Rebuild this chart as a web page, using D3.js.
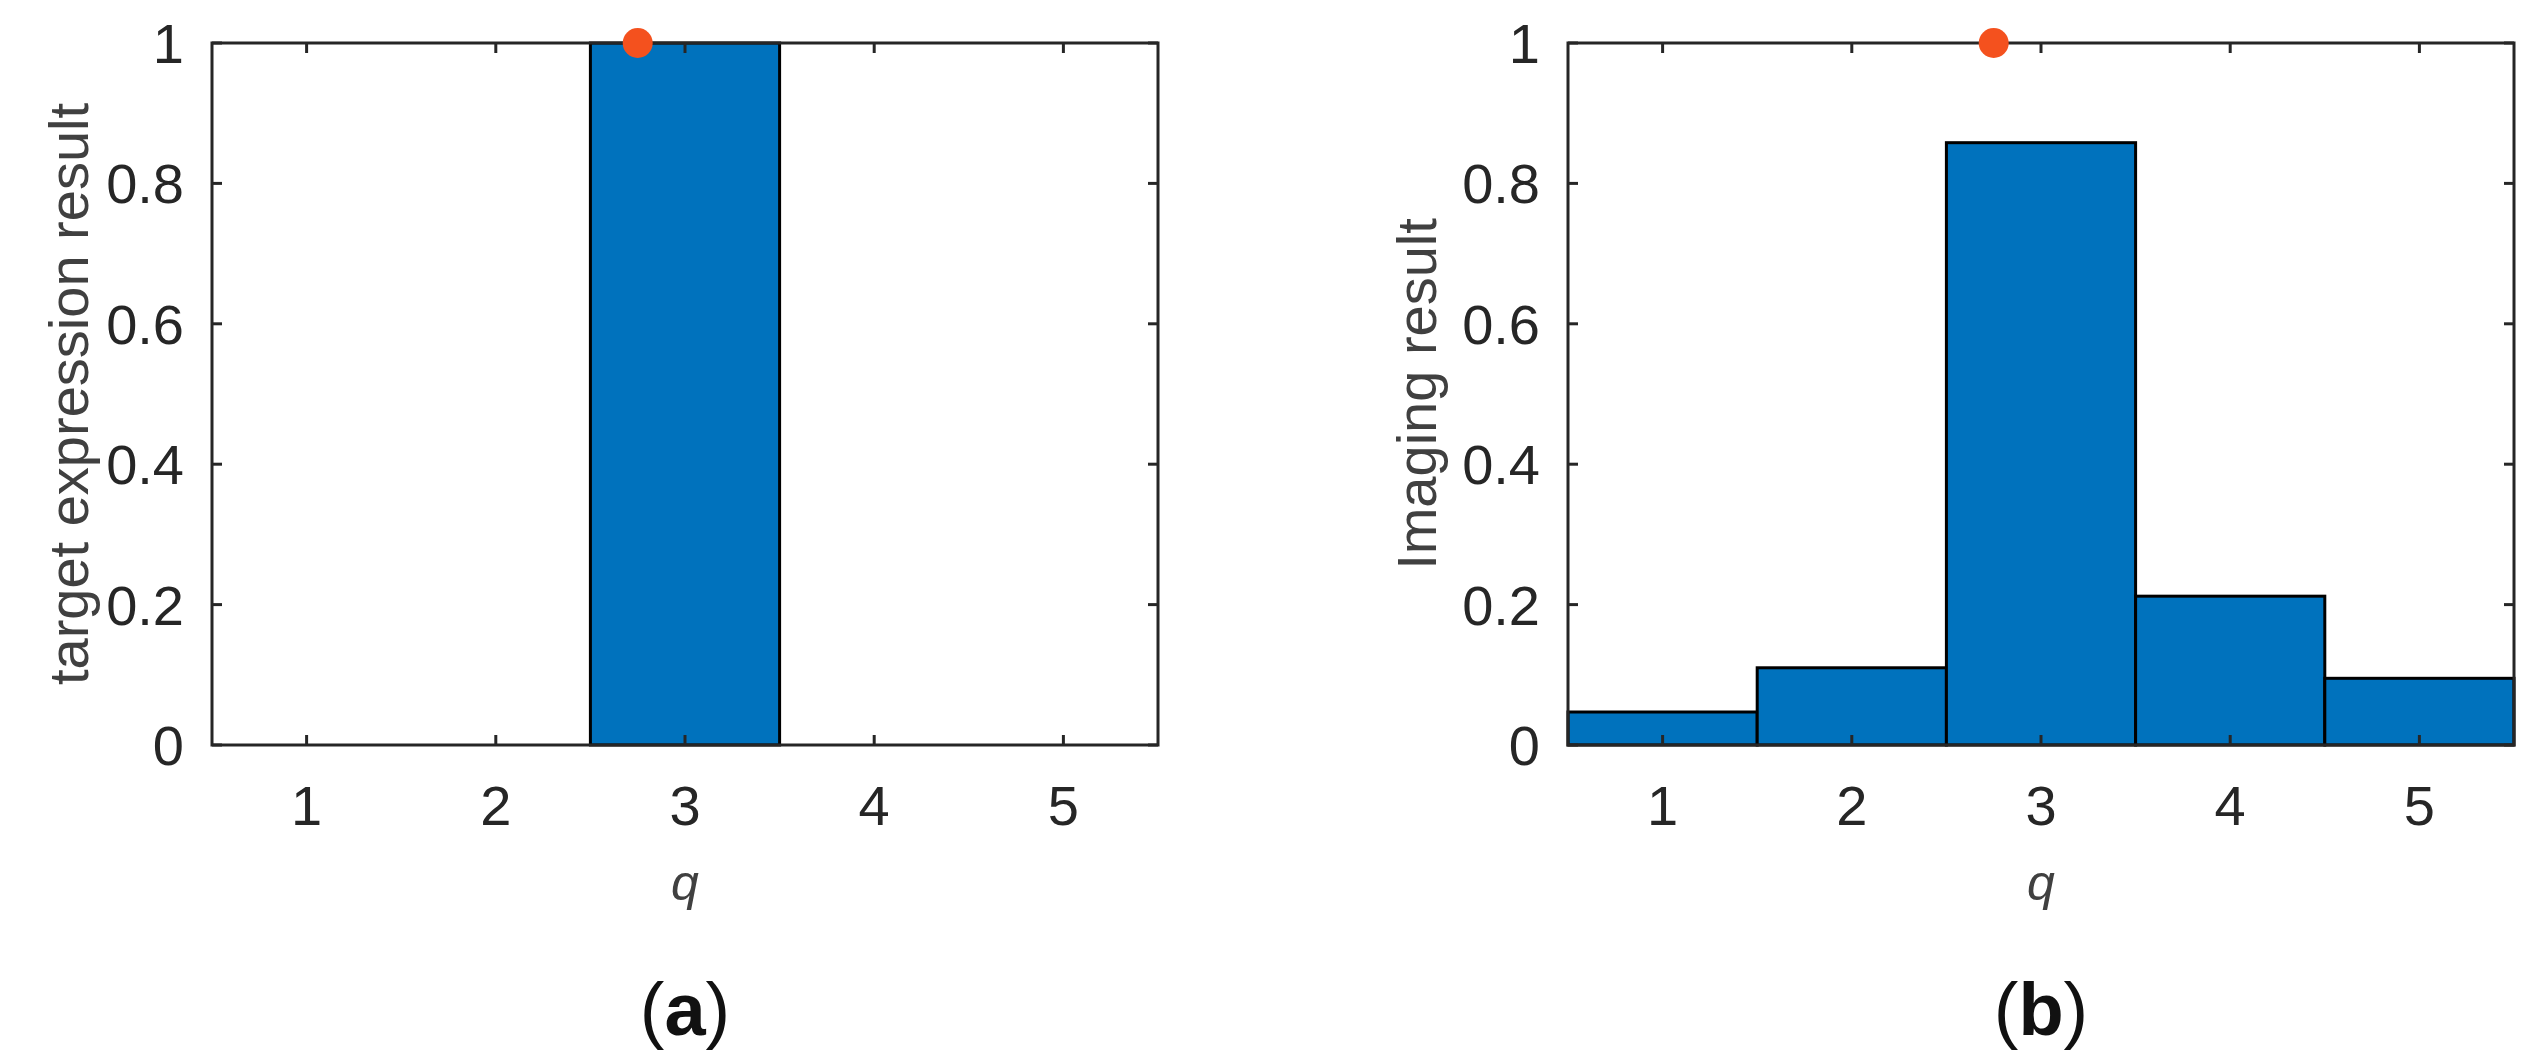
<!DOCTYPE html>
<html>
<head>
<meta charset="utf-8">
<script src="https://cdn.jsdelivr.net/npm/d3@7"></script>
<style>
  body { margin: 0; background: white; }
  text { font-family: "Liberation Sans", Arial, sans-serif; }
</style>
</head>
<body>
<svg id="chart" width="2537" height="1062"></svg>
<script>
const categories = [1, 2, 3, 4, 5];
const targetValues = [0, 0, 1, 0, 0];
const imagingValues = [0.047, 0.110, 0.858, 0.212, 0.095];
const markerQ = 2.75;
const markerValue = 1;
const yTicks = [0, 0.2, 0.4, 0.6, 0.8, 1];

const svg = d3.select("#chart");
const axisColor = "#262626";

function panel(left, values, ylabel, labelX, letter) {
  const top = 43, bottom = 745, width = 946;
  const x = d3.scaleLinear().domain([0.5, 5.5]).range([left, left + width]);
  const y = d3.scaleLinear().domain([0, 1]).range([bottom, top]);
  const g = svg.append("g");

  g.selectAll(".bar")
    .data(values.map((v, i) => ({q: categories[i], v: v})).filter(d => d.v > 0))
    .enter()
    .append("rect")
    .attr("x", d => x(d.q - 0.5))
    .attr("y", d => y(d.v))
    .attr("width", d => x(d.q + 0.5) - x(d.q - 0.5))
    .attr("height", d => y(0) - y(d.v))
    .attr("fill", "#0072BD")
    .attr("stroke", "#000")
    .attr("stroke-width", 3);

  // ticks inside box
  g.selectAll(".xt").data(categories).enter().append("g").each(function(d) {
    const s = d3.select(this);
    s.append("line").attr("x1", x(d)).attr("x2", x(d)).attr("y1", bottom).attr("y2", bottom - 10)
      .attr("stroke", axisColor).attr("stroke-width", 3);
    s.append("line").attr("x1", x(d)).attr("x2", x(d)).attr("y1", top).attr("y2", top + 10)
      .attr("stroke", axisColor).attr("stroke-width", 3);
    s.append("text").attr("x", x(d)).attr("y", 825).attr("text-anchor", "middle")
      .attr("font-size", 56).attr("fill", axisColor).text(d);
  });
  g.selectAll(".yt").data(yTicks).enter().append("g").each(function(d) {
    const s = d3.select(this);
    s.append("line").attr("x1", left).attr("x2", left + 10).attr("y1", y(d)).attr("y2", y(d))
      .attr("stroke", axisColor).attr("stroke-width", 3);
    s.append("line").attr("x1", left + width).attr("x2", left + width - 10).attr("y1", y(d)).attr("y2", y(d))
      .attr("stroke", axisColor).attr("stroke-width", 3);
    s.append("text").attr("x", left - 28).attr("y", y(d) + 20).attr("text-anchor", "end")
      .attr("font-size", 56).attr("fill", axisColor).text(d3.format("")(d));
  });

  g.append("rect").attr("x", left).attr("y", top).attr("width", width).attr("height", bottom - top)
    .attr("fill", "none").attr("stroke", axisColor).attr("stroke-width", 3);

  g.append("circle").attr("cx", x(markerQ)).attr("cy", y(markerValue)).attr("r", 15)
    .attr("fill", "#F4511E");

  g.append("text")
    .attr("transform", `translate(${labelX},${(top + bottom) / 2}) rotate(-90)`)
    .attr("text-anchor", "middle").attr("dy", "0.35em")
    .attr("font-size", 56).attr("fill", "#404040").text(ylabel);

  g.append("text").attr("x", x(3)).attr("y", 900).attr("text-anchor", "middle")
    .attr("font-family", "'Liberation Serif', serif").attr("font-style", "italic")
    .attr("font-size", 50).attr("fill", "#404040").text("q");

  const lt = g.append("text").attr("x", x(3)).attr("y", 1035).attr("text-anchor", "middle")
    .attr("font-family", "'Liberation Serif', serif").attr("font-size", 74).attr("fill", "#111");
  lt.append("tspan").text("(");
  lt.append("tspan").attr("font-weight", "bold").text(letter);
  lt.append("tspan").text(")");
}

panel(212, targetValues, "target expression result", 68, "a");
panel(1568, imagingValues, "Imaging result", 1416, "b");
</script>
</body>
</html>
